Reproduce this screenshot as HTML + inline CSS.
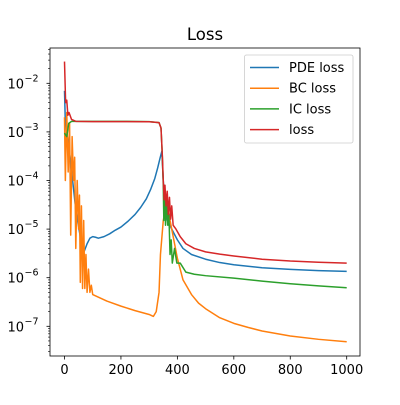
<!DOCTYPE html>
<html><head><meta charset="utf-8"><style>
body{margin:0;background:#fff}
svg{font-family:"DejaVu Sans","Liberation Sans",sans-serif}
</style></head><body>
<svg id="c" width="400" height="400" viewBox="0 0 400 400"></svg>
<script>
const xTicks=[0,200,400,600,800,1000];
const yDecades=[-7,-6,-5,-4,-3,-2];
const seriesNames=["PDE loss","BC loss","IC loss","loss"];
const seriesColors=["#1f77b4","#ff7f0e","#2ca02c","#d62728"];
const pdeLoss=[[0,7e-3],[3,1.5e-3],[10,8e-4],[20,3e-4],[40,2.5e-5],[60,5e-6],[70,3.5e-6],[80,5e-6],[90,6.5e-6],[100,7e-6],[110,6.8e-6],[120,6.5e-6],[140,7e-6],[160,8e-6],[180,9.5e-6],[200,1.1e-5],[225,1.45e-5],[250,2e-5],[270,2.8e-5],[290,4.2e-5],[305,6.5e-5],[320,1.1e-4],[330,1.8e-4],[338,2.8e-4],[345,4e-4],[350,1e-4],[355,3e-5],[365,1.5e-5],[380,1e-5],[400,6e-6],[420,4e-6],[450,3e-6],[500,2.4e-6],[550,2.05e-6],[600,1.85e-6],[700,1.6e-6],[800,1.48e-6],[900,1.4e-6],[1000,1.35e-6]];
const bcLoss=[[0,2e-3],[3,1e-4],[8,2.5e-3],[13,1.5e-4],[18,1.5e-3],[22,7.5e-6],[27,8e-4],[32,1e-4],[36,3e-4],[40,4e-6],[45,1e-4],[50,1e-5],[53,5e-5],[56,8e-7],[60,3e-5],[64,6e-7],[68,1.5e-5],[72,6e-7],[76,3e-6],[80,5e-7],[85,1.5e-6],[90,5e-7],[95,7e-7],[100,4.5e-7],[150,3.3e-7],[200,2.6e-7],[250,2.1e-7],[300,1.75e-7],[315,1.6e-7],[325,2e-7],[335,5e-7],[340,3e-6],[350,1.5e-5],[360,3e-5],[370,2e-5],[380,1e-5],[400,2.5e-6],[420,9e-7],[450,4.5e-7],[475,3e-7],[500,2.3e-7],[550,1.5e-7],[600,1.15e-7],[650,9.5e-8],[700,8e-8],[800,6.3e-8],[900,5.4e-8],[1000,4.8e-8]];
const icLoss=[[0,9.5e-4],[5,8.5e-4],[8,8e-4],[15,1.5e-3],[25,1.65e-3],[100,1.65e-3],[200,1.65e-3],[300,1.63e-3],[335,1.55e-3],[342,1.2e-3],[346,4e-4],[350,8e-5],[352,1.5e-5],[355,8e-5],[358,1.2e-5],[362,4e-5],[366,1.2e-5],[370,2e-5],[374,3e-6],[378,6e-6],[382,2e-6],[390,4e-6],[398,2e-6],[410,2e-6],[430,1.3e-6],[460,1.18e-6],[500,1.1e-6],[600,9.8e-7],[700,8.5e-7],[800,7.5e-7],[900,6.8e-7],[1000,6.2e-7]];
const totalLoss=[[0,2.8e-2],[4,4e-3],[8,4.5e-3],[12,2.2e-3],[16,2.5e-3],[25,1.8e-3],[40,1.65e-3],[100,1.63e-3],[200,1.63e-3],[300,1.62e-3],[335,1.55e-3],[342,1.2e-3],[347,3e-4],[350,1e-4],[353,4e-5],[356,8e-5],[360,3e-5],[364,6e-5],[368,2e-5],[372,4.5e-5],[376,1.6e-5],[380,3e-5],[385,1.2e-5],[395,1e-5],[410,7e-6],[430,5e-6],[460,4e-6],[500,3.4e-6],[550,3.05e-6],[600,2.8e-6],[700,2.4e-6],[800,2.2e-6],[900,2.08e-6],[1000,2e-6]];
const allSeries=[pdeLoss,bcLoss,icLoss,totalLoss];

const L=50,R=360,T=48,B=356;
const X=v=>64.5+v*0.2822;
const Y=v=>83.3-(Math.log10(v)+2)*48.6;
const NS="http://www.w3.org/2000/svg";
const svg=document.getElementById('c');
function mk(t,a){const e=document.createElementNS(NS,t);for(const k in a)e.setAttribute(k,a[k]);svg.appendChild(e);return e;}

const clip=mk('clipPath',{id:'cp'});
const cr=document.createElementNS(NS,'rect');cr.setAttribute('x',L);cr.setAttribute('y',T);cr.setAttribute('width',R-L);cr.setAttribute('height',B-T);clip.appendChild(cr);

allSeries.forEach((s,i)=>{
  const p=mk('polyline',{points:s.map(d=>X(d[0]).toFixed(2)+','+Y(d[1]).toFixed(2)).join(' '),fill:'none',stroke:seriesColors[i],'stroke-width':1.5,'clip-path':'url(#cp)','stroke-linejoin':'round'});
  
  
});

const frame=mk('rect',{x:L,y:T,width:R-L,height:B-T,fill:'none',stroke:'#000','stroke-width':0.8});



xTicks.forEach(v=>{
  const x=X(v);
  mk('line',{x1:x,x2:x,y1:B,y2:B+3.5,stroke:'#000','stroke-width':0.8});
  const t=mk('text',{x:x,y:B+18,'font-size':13,'text-anchor':'middle',fill:'#000'});t.textContent=v;
  
  
});
for(let d=-8;d<=-1;d++){
  for(let m=2;m<=9;m++){const y=Y(m*Math.pow(10,d));if(y>T&&y<B)mk('line',{x1:L-2,x2:L,y1:y,y2:y,stroke:'#000','stroke-width':0.6});}
}
yDecades.forEach(d=>{
  const y=Y(Math.pow(10,d));
  mk('line',{x1:L-3.5,x2:L,y1:y,y2:y,stroke:'#000','stroke-width':0.8});
  const t=mk('text',{x:L-26,y:y+5,'font-size':13,'text-anchor':'end',fill:'#000'});t.textContent='10';
  
  
  const s=mk('text',{x:L-25.5,y:y-2,'font-size':9.5,'text-anchor':'start',fill:'#000'});s.textContent='\u2212'+(-d);
});

const title=mk('text',{x:205,y:40,'font-size':16.5,'text-anchor':'middle',fill:'#000'});title.textContent='Loss';



const lg=mk('rect',{x:244.5,y:55,width:108.5,height:88,rx:2,fill:'#fff','fill-opacity':0.8,stroke:'#ccc','stroke-width':0.8});


seriesNames.forEach((n,i)=>{
  const y=67.5+i*20.7;
  mk('line',{x1:250,x2:279,y1:y,y2:y,stroke:seriesColors[i],'stroke-width':1.5});
  const t=mk('text',{x:289,y:y+4.5,'font-size':13,fill:'#000'});t.textContent=n;
  
  
});
</script>
</body></html>
